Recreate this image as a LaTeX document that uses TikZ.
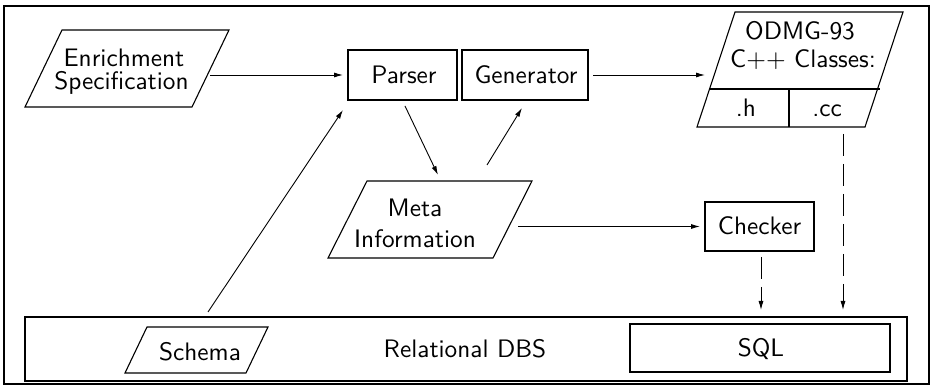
\documentclass[tikz,border=0pt]{standalone}
\usepackage{fontspec}
\newfontfamily\lmsten{lmsans10-regular.otf}
\usetikzlibrary{arrows.meta}
\newcommand{\drawpara}[2]{\draw[thinline] ([xshift=#2]#1.north west) -- (#1.north east) -- ([xshift=-#2]#1.south east) -- (#1.south west) -- cycle;}
\begin{document}
\begin{tikzpicture}[x=1pt,y=-1pt,
  thinline/.style={line width=1.1pt},
  thickline/.style={line width=2pt},
  region/.style={draw=none,inner sep=0pt,outer sep=0pt,minimum width=#1},
  txt/.style={anchor=base,inner sep=0pt,font=\lmsten\fontsize{25.3}{24}\selectfont},
  arr/.style={-{Latex[length=9pt,width=5pt]},line width=0.9pt},
  darr/.style={arr,dash pattern=on 22pt off 8pt}]
\useasboundingbox (0,0) rectangle (930,387);
\draw[thinline] (4,6) rectangle (929,384);
% parallelogram regions
\node[region=204pt,minimum height=77pt] (ench) at (127,68.5) {};
\node[region=204pt,minimum height=77pt] (meta) at (430,219.5) {};
\node[region=206pt,minimum height=115pt] (odmg) at (800,69.5) {};
\node[region=143pt,minimum height=46pt] (schema) at (196.5,350) {};
\drawpara{ench}{37pt}
\drawpara{meta}{39pt}
\drawpara{odmg}{38pt}
\drawpara{schema}{22pt}
\draw[thinline] (709.6,89) -- (879.6,89);
\draw[thinline] (789,89) -- (789,127);
% boxes
\node[region=109pt,minimum height=50pt,draw,thickline] (parser) at (402.5,75) {};
\node[region=126pt,minimum height=50pt,draw,thickline] (gen) at (525,75) {};
\node[region=109pt,minimum height=49pt,draw,thickline] (checker) at (759.5,226.5) {};
\node[region=882pt,minimum height=64pt,draw,thickline] (dbs) at (466,349) {};
\node[region=260pt,minimum height=48pt,draw,thinline] (sql) at (760,348) {};
% texts
\node[txt] (t1) at (124,66.7) {Enrichment};
\node[txt] (t2) at (121.5,90) {Specification};
\node[txt] (t3) at (404,83.3) {Parser};
\node[txt] (t4) at (526,83.3) {Generator};
\node[txt] (t5) at (800,40) {ODMG-93};
\node[txt] (t6) at (803,68) {C++ Classes:};
\node[txt] (t7) at (746,117) {.h};
\node[txt] (t8) at (827,117) {.cc};
\node[txt] (t9) at (415,216.7) {Meta};
\node[txt] (t10) at (415,247.3) {Information};
\node[txt] (t11) at (759.5,235) {Checker};
\node[txt] (t12) at (200,361) {Schema};
\node[txt] (t13) at (465,357.5) {Relational DBS};
\node[txt] (t14) at (761,357) {SQL};
% connector ends
\coordinate (e1) at (210,75);
\coordinate (o1) at (705,75);
\coordinate (m1) at (518,226.5);
\coordinate (p1) at (405,106);
\coordinate (m2) at (438,175);
\coordinate (m3) at (487,165);
\coordinate (g1) at (522,108);
\coordinate (s1) at (208,312);
\coordinate (p2) at (343,110);
\coordinate (c1) at (761,257);
\coordinate (d1) at (761,310);
\coordinate (h1) at (843,134);
\coordinate (d2) at (843,310);
% connectors
\draw[arr] (e1) -- ([xshift=-5pt]parser.west);
\draw[arr] ([xshift=5pt]gen.east) -- (o1);
\draw[arr] (m1) -- ([xshift=-5pt]checker.west);
\draw[arr] (p1) -- (m2);
\draw[arr] (m3) -- (g1);
\draw[arr] (s1) -- (p2);
\draw[darr] (c1) -- (d1);
\draw[darr] (h1) -- (d2);
\end{tikzpicture}
\end{document}
